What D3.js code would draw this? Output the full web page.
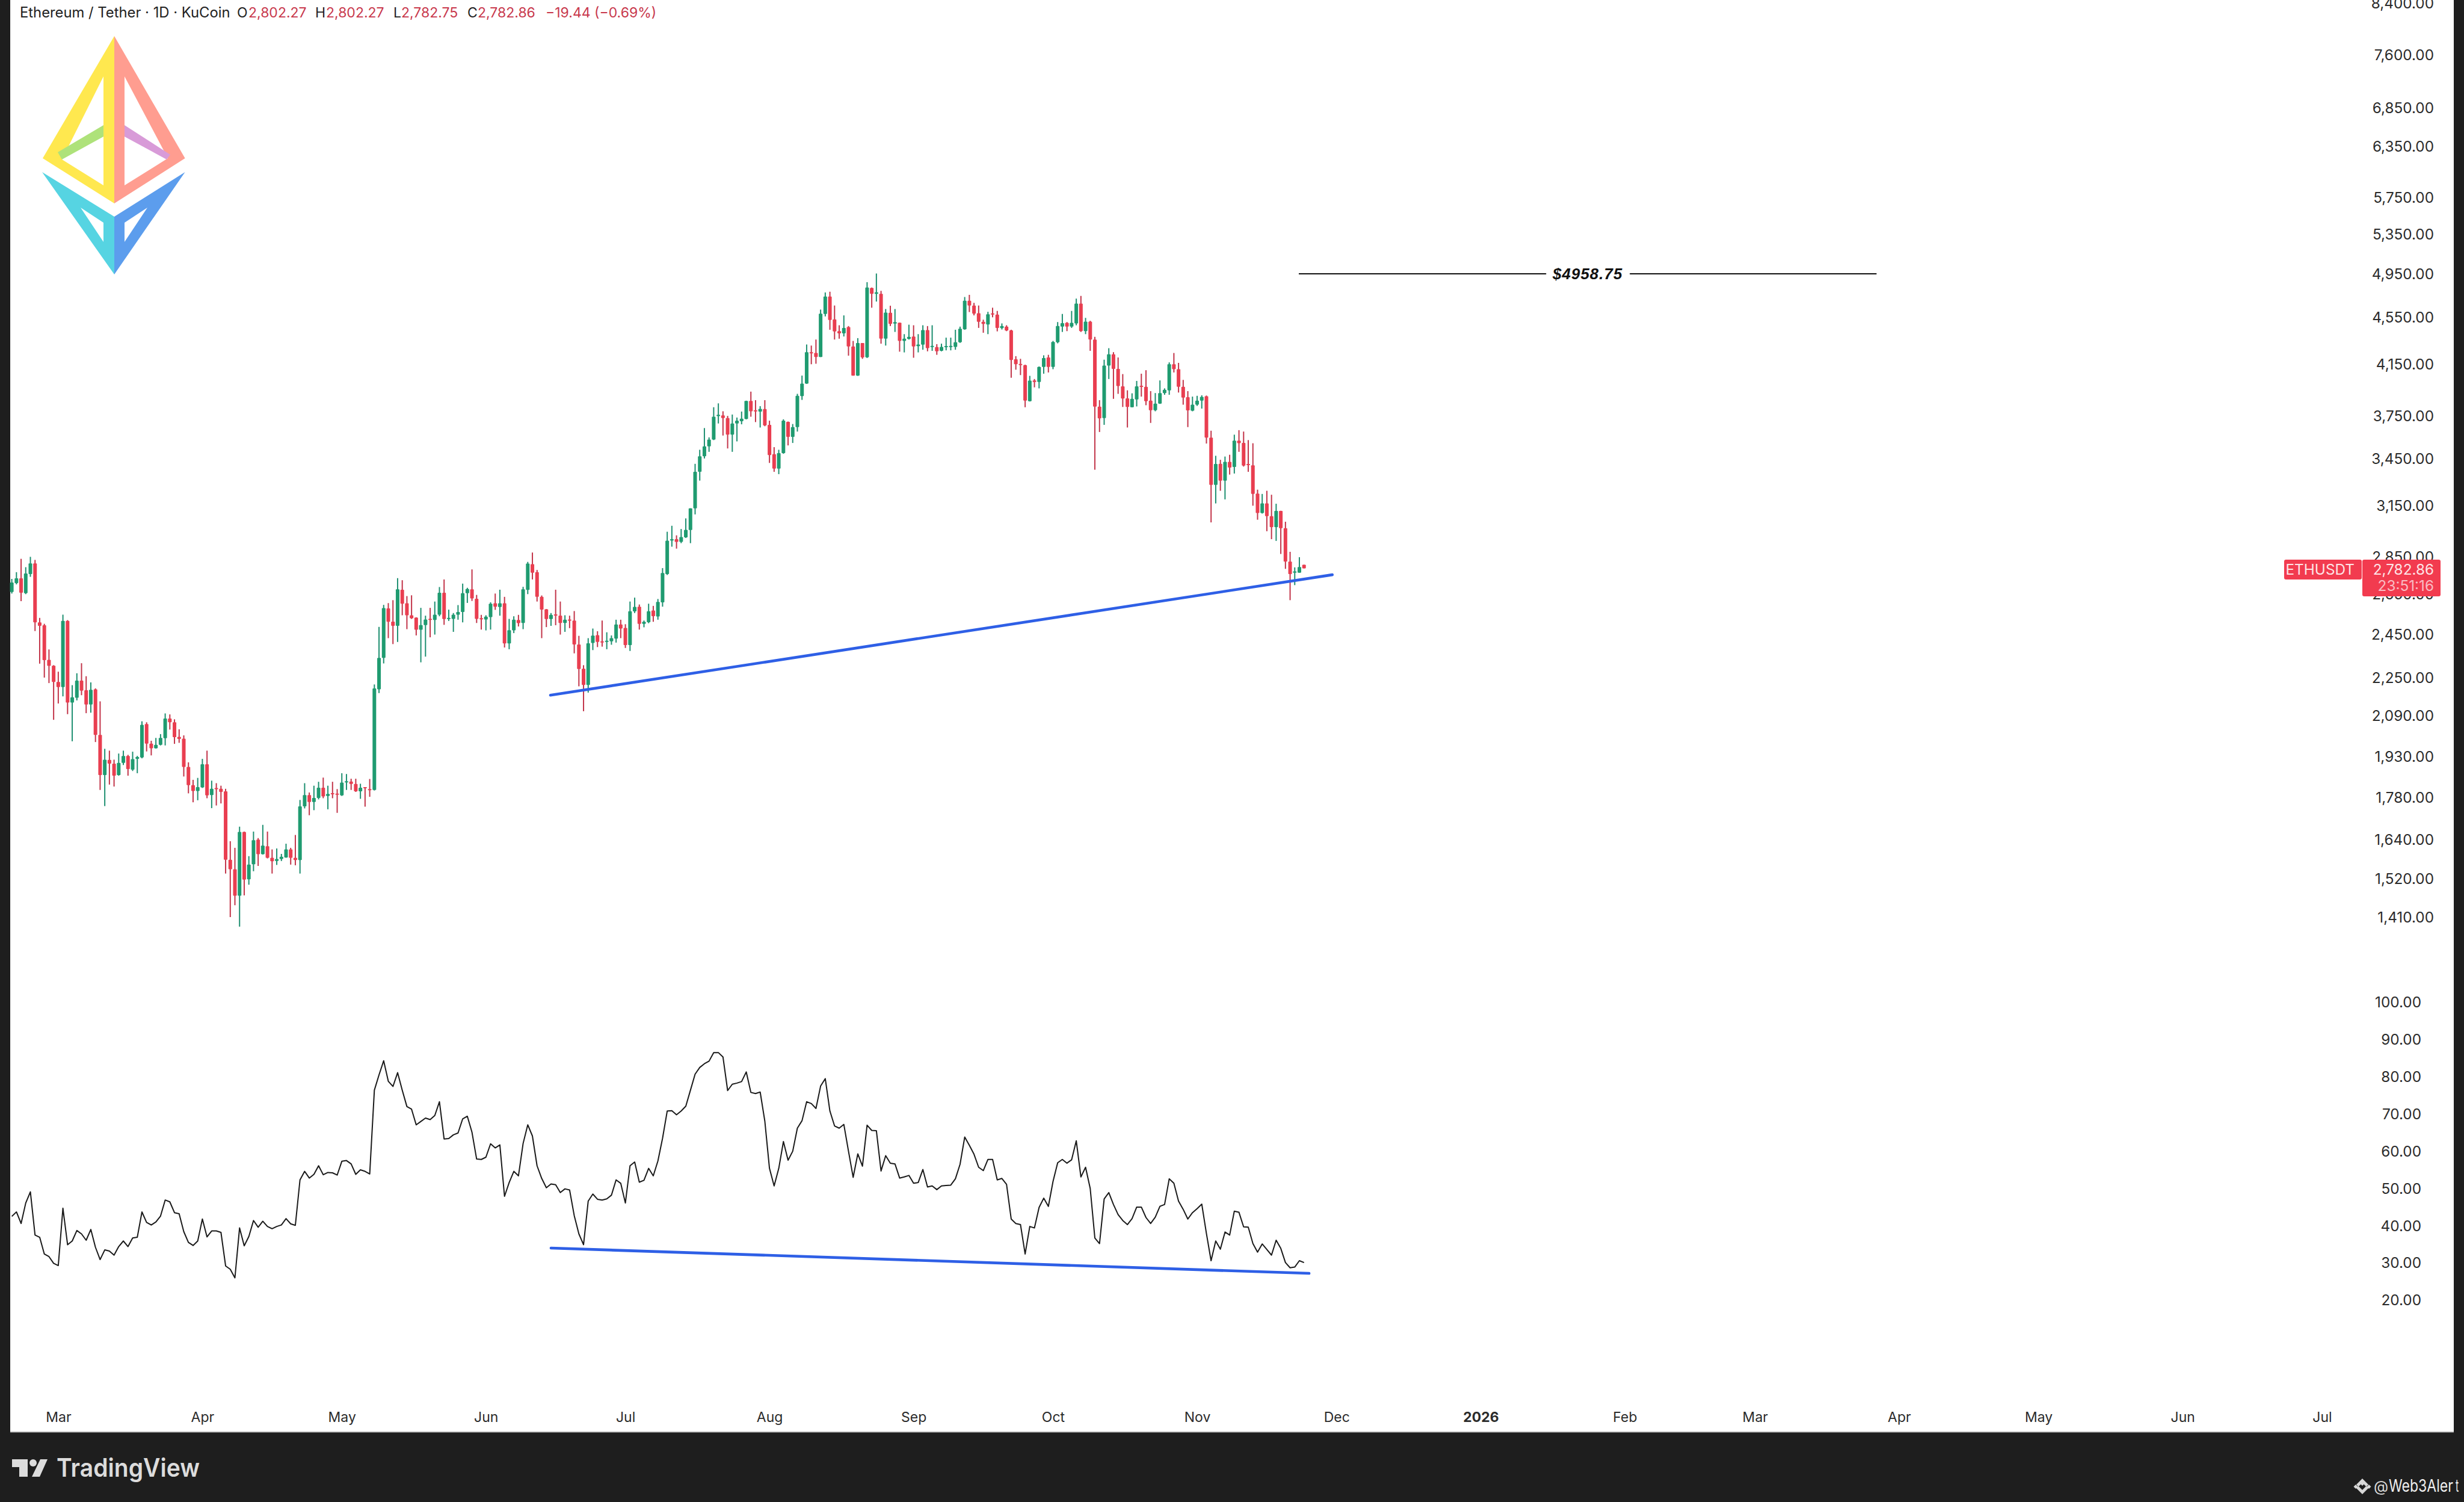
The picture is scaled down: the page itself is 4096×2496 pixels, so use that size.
<!DOCTYPE html>
<html>
<head>
<meta charset="utf-8">
<title>ETHUSDT 1D</title>
<script src="https://cdn.jsdelivr.net/npm/d3@7"></script>
<style>
  html, body { margin: 0; padding: 0; background: #1e1e1e; }
  svg { display: block; }
  text { font-family: Inter, "Noto Sans", sans-serif; }
</style>
</head>
<body>
<svg id="chart" width="4096" height="2496"></svg>
<script>
// ─── Data ───────────────────────────────────────
const firstDay = new Date(Date.UTC(2025, 1, 19));

// daily candles: open, high, low, close
const ohlc = [
[2657,2726,2649,2707],[2704,2762,2697,2729],[2729,2835,2610,2653],[2651,2789,2646,2755],[2752,2846,2737,2810],
[2810,2829,2462,2504],[2504,2526,2310,2487],[2490,2497,2248,2326],[2327,2375,2224,2300],[2301,2303,2070,2229],
[2229,2274,2137,2207],[2207,2542,2167,2511],[2511,2515,2093,2141],[2141,2215,1985,2163],[2161,2267,2150,2235],
[2235,2312,2172,2191],[2193,2254,2097,2133],[2133,2227,2099,2195],[2197,2201,1982,2010],[2010,2146,1805,1858],
[1858,1956,1749,1915],[1914,1949,1824,1900],[1900,1915,1817,1856],[1858,1938,1856,1903],[1903,1949,1895,1929],
[1929,1933,1856,1880],[1878,1945,1873,1917],[1918,1929,1865,1925],[1923,2064,1920,2050],[2053,2060,1946,1976],
[1976,1987,1931,1958],[1958,1998,1957,1971],[1971,2013,1969,1998],[1997,2096,1969,2075],[2075,2092,2031,2060],
[2060,2072,1975,2001],[2002,2032,1979,1994],[1995,2008,1853,1888],[1888,1905,1793,1822],[1822,1841,1762,1801],
[1801,1848,1769,1815],[1814,1918,1812,1898],[1898,1949,1776,1786],[1787,1838,1742,1809],[1812,1829,1751,1809],
[1809,1820,1758,1798],[1800,1809,1533,1575],[1575,1633,1408,1546],[1546,1612,1441,1468],[1468,1680,1382,1663],
[1663,1664,1469,1515],[1516,1586,1500,1560],[1561,1664,1540,1636],[1638,1643,1556,1592],[1592,1686,1591,1619],
[1617,1664,1579,1581],[1581,1607,1533,1570],[1571,1610,1559,1577],[1577,1593,1571,1584],[1582,1625,1581,1607],
[1607,1612,1560,1581],[1581,1653,1558,1574],[1574,1770,1533,1748],[1748,1829,1741,1787],[1787,1796,1718,1763],
[1763,1820,1735,1777],[1777,1834,1772,1813],[1813,1849,1776,1782],[1784,1820,1738,1791],[1794,1834,1776,1790],
[1792,1808,1726,1789],[1786,1865,1784,1831],[1834,1862,1805,1836],[1835,1845,1805,1826],[1826,1845,1798,1800],
[1800,1827,1774,1813],[1815,1815,1747,1812],[1808,1844,1781,1805],[1805,2218,1803,2201],[2197,2482,2181,2336],
[2336,2591,2311,2575],[2573,2600,2428,2507],[2508,2615,2400,2487],[2487,2730,2410,2671],[2669,2719,2539,2597],
[2599,2636,2471,2539],[2539,2640,2521,2524],[2528,2529,2441,2468],[2468,2576,2316,2491],[2491,2537,2342,2518],
[2522,2576,2432,2520],[2516,2608,2445,2542],[2542,2683,2534,2653],[2653,2723,2492,2520],[2521,2567,2511,2526],
[2521,2550,2458,2542],[2542,2590,2517,2555],[2555,2701,2504,2651],[2651,2679,2601,2673],[2671,2777,2611,2624],
[2622,2642,2501,2521],[2525,2541,2469,2521],[2518,2539,2465,2532],[2530,2604,2469,2597],[2599,2649,2566,2582],
[2580,2669,2537,2599],[2599,2632,2384,2403],[2403,2521,2376,2466],[2465,2534,2452,2517],[2516,2541,2484,2500],
[2501,2684,2471,2671],[2668,2818,2646,2809],[2806,2870,2723,2759],[2762,2774,2608,2632],[2632,2639,2428,2567],
[2569,2570,2481,2520],[2520,2550,2487,2541],[2543,2669,2490,2539],[2537,2608,2445,2501],[2501,2539,2458,2517],
[2518,2537,2476,2515],[2513,2560,2357,2398],[2398,2439,2210,2286],[2287,2303,2105,2216],[2216,2428,2183,2404],
[2405,2474,2372,2440],[2442,2461,2386,2410],[2413,2513,2388,2410],[2411,2456,2376,2416],[2413,2441,2397,2428],
[2426,2517,2407,2494],[2494,2517,2428,2474],[2477,2495,2382,2395],[2395,2608,2368,2559],[2558,2628,2550,2581],
[2582,2593,2469,2497],[2497,2513,2480,2507],[2505,2597,2500,2559],[2563,2586,2507,2534],[2533,2621,2517,2606],
[2604,2784,2582,2757],[2752,2989,2747,2937],[2938,3024,2903,2946],[2946,2968,2892,2930],[2930,3005,2923,2958],
[2956,3068,2953,3000],[2999,3129,2923,3129],[3129,3413,3092,3360],[3360,3508,3303,3464],[3464,3660,3449,3532],
[3532,3594,3494,3579],[3579,3812,3575,3742],[3746,3841,3693,3756],[3752,3782,3607,3732],[3732,3748,3517,3613],
[3613,3758,3494,3693],[3693,3736,3566,3713],[3709,3780,3687,3728],[3726,3861,3723,3859],[3859,3930,3742,3782],
[3790,3865,3703,3782],[3780,3820,3664,3800],[3798,3865,3673,3679],[3683,3713,3419,3472],[3478,3526,3360,3381],
[3381,3508,3345,3485],[3485,3723,3481,3713],[3705,3707,3538,3598],[3598,3689,3555,3667],[3667,3913,3635,3898],
[3896,4055,3867,3992],[3992,4309,3990,4245],[4245,4300,4146,4236],[4238,4351,4150,4205],[4205,4613,4205,4576],
[4574,4770,4552,4733],[4733,4777,4435,4520],[4525,4650,4351,4421],[4423,4474,4358,4404],[4404,4561,4377,4451],
[4458,4467,4216,4293],[4293,4339,4055,4055],[4055,4363,4053,4321],[4321,4321,4190,4201],[4203,4867,4197,4816],
[4813,4816,4630,4757],[4757,4950,4686,4772],[4757,4785,4316,4358],[4358,4618,4300,4586],[4584,4648,4467,4486],
[4488,4618,4416,4502],[4497,4497,4249,4339],[4339,4397,4243,4358],[4356,4479,4351,4374],[4377,4474,4199,4293],
[4295,4397,4243,4309],[4307,4474,4265,4432],[4432,4467,4252,4278],[4289,4474,4256,4298],[4287,4312,4223,4252],
[4256,4316,4252,4289],[4289,4367,4260,4296],[4291,4367,4260,4298],[4289,4435,4265,4328],[4328,4462,4323,4444],
[4439,4728,4435,4694],[4694,4748,4591,4650],[4650,4674,4561,4576],[4581,4650,4451,4504],[4504,4523,4409,4486],
[4481,4593,4397,4571],[4579,4630,4544,4571],[4569,4601,4421,4451],[4449,4490,4437,4467],[4462,4474,4423,4428],
[4430,4435,4038,4181],[4186,4212,4102,4146],[4148,4190,4059,4142],[4139,4142,3812,3861],[3857,4053,3855,4015],
[4017,4028,3963,4005],[4005,4128,3955,4124],[4124,4219,4070,4197],[4201,4223,4080,4124],[4124,4339,4106,4330],
[4328,4502,4319,4467],[4462,4574,4416,4493],[4495,4502,4423,4462],[4462,4601,4451,4495],[4490,4713,4474,4667],
[4667,4738,4416,4423],[4423,4539,4397,4506],[4506,4513,4256,4351],[4351,4374,3374,3816],[3816,3865,3632,3730],
[3732,4183,3683,4135],[4135,4278,4028,4227],[4227,4245,3875,4109],[4109,4201,3913,3973],[3971,4067,3814,3877],
[3879,3940,3664,3814],[3812,3917,3812,3875],[3871,4013,3818,3971],[3975,4070,3892,3969],[3967,4098,3827,3857],
[3861,3934,3697,3790],[3790,3919,3782,3839],[3839,4017,3837,3919],[3919,3955,3906,3944],[3940,4161,3906,4146],
[4146,4238,4080,4106],[4106,4157,3923,3967],[3967,4021,3831,3884],[3888,3934,3667,3788],[3786,3892,3782,3831],
[3831,3898,3822,3861],[3861,3902,3802,3890],[3894,3900,3551,3592],[3592,3641,3044,3276],[3276,3467,3159,3412],
[3413,3440,3238,3303],[3303,3462,3184,3426],[3426,3474,3342,3388],[3392,3613,3349,3571],[3571,3645,3494,3553],
[3555,3635,3395,3401],[3412,3575,3360,3404],[3403,3553,3145,3218],[3220,3245,3060,3100],[3100,3218,3097,3159],
[3159,3238,2992,3081],[3081,3213,2946,3016],[3016,3157,2936,3113],[3113,3114,2862,3010],[3010,3048,2780,2820],
[2820,2874,2615,2752],[2759,2788,2693,2766],[2759,2844,2759,2790],[2802.27,2802.27,2782.75,2782.86]
];

// RSI, one value a day
const rsiValues = [
42.4,43.6,40.5,46.0,49.0,37.4,36.8,32.3,31.6,29.8,29.2,44.6,34.8,35.8,38.6,37.7,36.0,38.9,34.1,30.8,
33.4,33.1,32.0,34.3,35.8,34.3,36.6,36.8,43.6,40.8,40.1,40.9,42.5,46.8,46.3,43.4,43.1,38.3,35.4,34.6,
35.8,41.7,36.9,38.5,38.5,38.1,29.1,28.2,25.9,39.3,34.5,37.0,41.3,39.5,41.1,39.7,39.1,39.7,40.1,41.8,
40.4,40.0,52.2,54.5,52.7,53.7,56.0,53.6,54.2,54.1,53.5,57.2,57.4,56.5,53.7,54.9,54.5,53.8,76.3,80.4,
84.2,78.7,77.3,81.0,76.3,71.9,71.2,67.0,67.9,68.8,68.4,69.5,73.2,63.2,63.3,64.3,64.8,68.6,69.3,65.0,
57.8,57.7,58.3,61.9,60.8,61.6,47.8,51.5,54.5,53.3,62.0,67.0,64.0,56.0,52.6,50.1,51.1,50.9,48.8,49.8,
49.5,42.6,37.7,34.8,46.5,48.4,47.0,46.8,47.1,48.1,52.2,51.3,46.0,56.0,57.0,51.6,52.1,55.3,53.3,57.3,
63.4,70.7,70.8,69.7,70.7,72.0,76.3,80.6,82.4,83.4,84.1,86.4,86.4,85.2,76.2,77.9,78.2,78.6,81.2,75.7,
75.4,75.8,68.0,55.3,50.6,55.3,62.5,57.5,59.9,66.1,68.1,73.2,72.7,71.4,77.4,79.4,70.7,66.7,66.1,67.1,
59.9,52.9,59.2,55.9,66.9,65.5,65.4,54.6,58.7,56.7,56.5,52.7,53.0,53.4,51.3,51.5,55.0,50.3,50.6,49.6,
50.6,50.7,50.8,52.5,56.4,63.7,61.5,59.1,55.6,54.7,57.7,57.7,52.2,52.6,51.0,41.7,40.5,40.2,32.3,39.7,
39.3,44.8,47.3,45.1,51.8,56.8,57.7,56.7,57.6,62.7,53.0,55.6,49.9,36.6,35.1,47.1,48.8,45.6,42.9,41.3,
40.2,41.8,44.9,44.9,42.1,40.5,42.2,45.1,45.6,52.5,51.3,46.5,44.3,41.7,43.4,44.5,45.7,37.8,30.5,35.8,
33.6,38.2,37.4,43.8,43.5,39.6,39.5,35.1,32.8,35.0,33.5,32.0,36.0,33.8,30.0,28.6,28.8,30.5,30.0
];

const priceTicks = [8400,7600,6850,6350,5750,5350,4950,4550,4150,3750,3450,3150,2850,2650,2450,2250,2090,1930,1780,1640,1520,1410];
const rsiTicks   = [100,90,80,70,60,50,40,30,20];
const timeTicks  = [[2025,2],[2025,3],[2025,4],[2025,5],[2025,6],[2025,7],[2025,8],[2025,9],[2025,10],[2025,11],
                    [2026,0],[2026,1],[2026,2],[2026,3],[2026,4],[2026,5],[2026,6]].map(d => new Date(Date.UTC(d[0], d[1], 1)));

// drawn lines: [day number, value]
const priceTrend = [[115.9, 2172], [284.1, 2748]];
const rsiTrend   = [[116, 33.9], [279.1, 27.1]];
const athLine    = { from: 276.9, to: 401.2, price: 4946, label: '$4958.75' };

const legend = [
  { x: 33,  text: 'Ethereum / Tether · 1D · KuCoin', dark: true, size: 23.8 },
  { x: 394, text: 'O', dark: true },  { x: 413, text: '2,802.27' },
  { x: 524, text: 'H', dark: true },  { x: 542, text: '2,802.27' },
  { x: 654, text: 'L', dark: true },  { x: 667, text: '2,782.75' },
  { x: 777, text: 'C', dark: true },  { x: 794, text: '2,782.86' },
  { x: 907, text: '−19.44 (−0.69%)' }
];

// ─── Scales ─────────────────────────────────────
const GREEN = '#1f9b70', RED = '#e93e50', BLUE = '#2e5fe6', INK = '#2b2b2b';

const x = d3.scaleUtc()
  .domain([firstDay, new Date(Date.UTC(2026, 6, 1))])
  .range([19.6, 3860]);
const xDay = n => x(d3.utcHour.offset(firstDay, n * 24));
const yPrice = d3.scaleLog().domain([1410, 4950]).range([1522.8, 454.5]);
const yRsi   = d3.scaleLinear().domain([20, 100]).range([2160, 1665]);

const svg = d3.select('#chart');

// ─── Frame ──────────────────────────────────────
svg.append('rect').attr('width', 4096).attr('height', 2496).attr('fill', '#1e1e1e');
svg.append('rect').attr('x', 17).attr('y', 0).attr('width', 4062).attr('height', 2380).attr('fill', '#fff');
svg.append('line').attr('x1', 17).attr('x2', 4079).attr('y1', 2380).attr('y2', 2380)
  .attr('stroke', '#8c8c8c').attr('stroke-width', 1.5);

// ─── Logo ───────────────────────────────────────
function drawLogo() {
  const g = svg.append('g');
  const shapes = [
    ['M190 60L71 263L190 338ZM172 127L103 265L172 308Z', '#ffe84f'],
    ['M190 60L307.6 263L190 338ZM207 127L279 263L207 308Z', '#ff9d90'],
    ['M172 208L172 227L103 265L96 253Z', '#aee27a'],
    ['M207 208L207 227L277 265L283 257Z', '#d89bd8'],
    ['M70 286L190 360L190 456ZM134 345L172 370L172 402Z', '#56d4e2'],
    ['M307.6 286L190 360L190 456ZM245 345L207 370L207 402Z', '#5c9ded']
  ];
  shapes.forEach(s => g.append('path').attr('d', s[0]).attr('fill', s[1]).attr('fill-rule', 'evenodd'));
}
drawLogo();

// ─── Legend line ────────────────────────────────
svg.append('g').selectAll('text').data(legend).enter().append('text')
  .attr('x', d => d.x).attr('y', 28.5)
  .attr('font-size', d => d.size || 23)
  .attr('fill', d => d.dark ? '#222' : '#c8384c')
  .text(d => d.text);

// ─── Candles ────────────────────────────────────
const candles = svg.append('g').selectAll('g').data(ohlc).enter().append('g');
const isUp = d => d[3] >= d[0];

candles.append('line')
  .attr('x1', (d, i) => xDay(i)).attr('x2', (d, i) => xDay(i))
  .attr('y1', d => yPrice(d[1])).attr('y2', d => yPrice(d[2]))
  .attr('stroke', d => isUp(d) ? '#1d8f70' : '#c23449')
  .attr('stroke-width', 2);

candles.append('rect')
  .attr('x', (d, i) => xDay(i) - 3)
  .attr('width', 6)
  .attr('y', d => yPrice(Math.max(d[0], d[3])))
  .attr('height', d => Math.max(2, Math.abs(yPrice(d[0]) - yPrice(d[3]))))
  .attr('rx', 1)
  .attr('fill', d => isUp(d) ? GREEN : RED);

// ─── RSI ────────────────────────────────────────
svg.append('path')
  .datum(rsiValues)
  .attr('fill', 'none').attr('stroke', '#1a1a1a').attr('stroke-width', 2)
  .attr('stroke-linejoin', 'round')
  .attr('d', d3.line().x((d, i) => xDay(i)).y(d => yRsi(d)));

// ─── Trend lines ────────────────────────────────
[[priceTrend, yPrice], [rsiTrend, yRsi]].forEach(([pts, y]) => {
  svg.append('path')
    .datum(pts)
    .attr('fill', 'none').attr('stroke', BLUE).attr('stroke-width', 4.6).attr('stroke-linecap', 'round')
    .attr('d', d3.line().x(d => xDay(d[0])).y(d => y(d[1])));
});

// ─── All time high line ─────────────────────────
const athY = Math.round(yPrice(athLine.price));
svg.append('line')
  .attr('x1', xDay(athLine.from)).attr('x2', xDay(athLine.to))
  .attr('y1', athY).attr('y2', athY)
  .attr('stroke', '#111').attr('stroke-width', 2);
const athMid = (xDay(athLine.from) + xDay(athLine.to)) / 2;
svg.append('rect').attr('x', athMid - 69).attr('y', athY - 16).attr('width', 139).attr('height', 32).attr('fill', '#fff');
svg.append('text')
  .attr('x', athMid).attr('y', athY + 9)
  .attr('text-anchor', 'middle')
  .style('font-family', '"Liberation Sans", Arial, sans-serif')
  .attr('font-size', 26).attr('font-weight', 700).attr('font-style', 'italic')
  .attr('letter-spacing', 1).attr('fill', '#111')
  .text(athLine.label);

// ─── Axes ───────────────────────────────────────
const styleAxis = size => g => {
  g.select('.domain').remove();
  g.selectAll('text').attr('fill', INK).attr('font-size', size).style('font-family', 'Inter, sans-serif');
};

svg.append('g').attr('transform', 'translate(4046,1.5)')
  .call(d3.axisLeft(yPrice).tickValues(priceTicks).tickSize(0).tickPadding(0).tickFormat(d3.format(',.2f')))
  .call(styleAxis(24.3));

svg.append('g').attr('transform', 'translate(4025,1)')
  .call(d3.axisLeft(yRsi).tickValues(rsiTicks).tickSize(0).tickPadding(0).tickFormat(d3.format('.2f')))
  .call(styleAxis(24.3));

svg.append('g').attr('transform', 'translate(0,2346.5)')
  .call(d3.axisBottom(x).tickValues(timeTicks).tickSize(0).tickPadding(0)
    .tickFormat(d => d.getUTCMonth() === 0 ? d3.utcFormat('%Y')(d) : d3.utcFormat('%b')(d)))
  .call(styleAxis(23))
  .call(g => g.selectAll('text').attr('font-weight', d => d.getUTCMonth() === 0 ? 700 : 400));

// ─── Price tags ─────────────────────────────────
function tag(px, py, w, h) {
  svg.append('rect').attr('x', px).attr('y', py).attr('width', w).attr('height', h).attr('rx', 3).attr('fill', '#f23b4f');
}
tag(3797, 930, 129, 33);
tag(3927, 930, 130, 61);
const tagText = (tx, ty, s, fill) => svg.append('text')
  .attr('x', tx).attr('y', ty).attr('font-size', 24.3).attr('fill', fill).attr('text-anchor', 'end').text(s);
tagText(3914, 955, 'ETHUSDT', '#fde4e6');
tagText(4046, 955, '2,782.86', '#fde4e6');
tagText(4046, 982, '23:51:16', '#f9bcc3');

// ─── Footer ─────────────────────────────────────
const foot = svg.append('g').attr('fill', '#dcdcdc');
foot.append('path').attr('d', 'M20 2425H46V2454H32V2438H20ZM67 2425H79L66 2454H53Z');
foot.append('circle').attr('cx', 55).attr('cy', 2431).attr('r', 6);
foot.append('text').attr('x', 94).attr('y', 2454)
  .attr('font-size', 42).attr('font-weight', 600)
  .attr('textLength', 238).attr('lengthAdjust', 'spacingAndGlyphs')
  .text('TradingView');

const mark = svg.append('g').attr('fill', '#d8d8d8');
mark.append('path').attr('d',
  'M3927 2457l6 6-6 6-6-6zM3927 2483l-10-10 3.5-3.5 6.5 6.5 6.5-6.5 3.5 3.5zM3927 2457l10 10-3.5 3.5-6.5-6.5-6.5 6.5-3.5-3.5z' +
  'M3916 2467l3.5 3.5-3.5 3.5-3.5-3.5zM3938 2467l3.5 3.5-3.5 3.5-3.5-3.5z');
mark.append('text').attr('x', 3946).attr('y', 2479).attr('font-size', 25).text('@');
mark.append('text').attr('x', 3971).attr('y', 2479).attr('font-size', 29).attr('fill', '#eeeeee')
  .attr('textLength', 107).attr('lengthAdjust', 'spacingAndGlyphs').text('Web3Aler');
mark.append('text').attr('transform', 'translate(4082,2479) scale(0.55,1)').attr('font-size', 29).attr('fill', '#eeeeee').text('t');
</script>
</body>
</html>
